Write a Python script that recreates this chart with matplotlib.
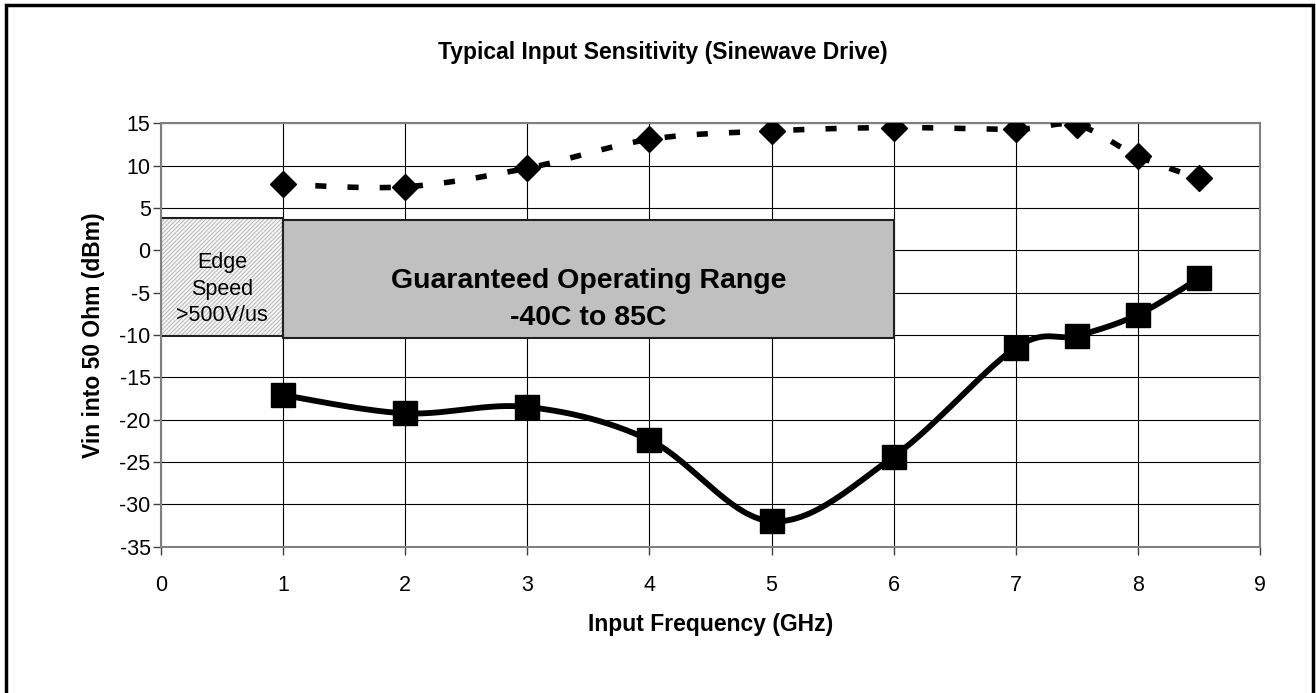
import numpy as np
import matplotlib
matplotlib.use('Agg')
import matplotlib.pyplot as plt
from matplotlib.patches import Rectangle

plt.rcParams['font.family'] = ['Liberation Sans', 'DejaVu Sans']
plt.rcParams['axes.unicode_minus'] = False
plt.rcParams['hatch.linewidth'] = 0.6
plt.rcParams['hatch.color'] = '#b0b0b0'

# data
freq_ghz = [1, 2, 3, 4, 5, 6, 7, 7.5, 8, 8.5]
upper_dbm = [7.8, 7.5, 9.7, 13.1, 14.1, 14.5, 14.3, 14.8, 11.1, 8.5]
lower_dbm = [-17.1, -19.25, -18.5, -22.4, -32.0, -24.35, -11.5, -10.1, -7.6, -3.3]

x_ticks = [0, 1, 2, 3, 4, 5, 6, 7, 8, 9]
y_ticks = [-35, -30, -25, -20, -15, -10, -5, 0, 5, 10, 15]

edge_box = (0, 1, -10.15, 3.8)        # x0, x1, y0, y1
range_box = (1, 6, -10.3, 3.6)


def smooth(xs, ys, n=30):
    # excel-like smoothed line: catmull-rom segments drawn as cubic bezier
    p = np.column_stack([xs, ys]).astype(float)
    p = np.vstack([p[0], p, p[-1]])
    out = []
    t = np.linspace(0, 1, n)[:, None]
    for i in range(1, len(p) - 2):
        p0, p1, p2, p3 = p[i - 1], p[i], p[i + 1], p[i + 2]
        c1 = p1 + (p2 - p0) / 6
        c2 = p2 - (p3 - p1) / 6
        seg = ((1 - t) ** 3) * p1 + 3 * ((1 - t) ** 2) * t * c1 + 3 * (1 - t) * t ** 2 * c2 + t ** 3 * p2
        out.append(seg)
    out = np.vstack(out)
    return out[:, 0], out[:, 1]


fig = plt.figure(figsize=(13.16, 6.93), dpi=100)
ax = fig.add_axes([161 / 1316, 1 - 546.7 / 693, (1260 - 161) / 1316, (546.7 - 123.3) / 693])

# outer chart frame (bottom edge is cut off in the reference)
fig.patches.append(Rectangle((5.5 / 1316, -0.05), (1313 - 5.5) / 1316, 1.05 - 5.5 / 693,
                             transform=fig.transFigure, fill=False, lw=2.5, ec='black'))

ax.set_xlim(0, 9)
ax.set_ylim(-35, 15)
ax.set_xticks(x_ticks)
ax.set_yticks(y_ticks)
ax.grid(True, color='black', lw=0.8)
ax.set_axisbelow(True)
for s in ax.spines.values():
    s.set_color('#808080')
    s.set_linewidth(1.5)
ax.tick_params(direction='out', length=5.5, width=1, color='#404040', labelsize=15.5)
ax.tick_params(axis='y', pad=2)
ax.tick_params(axis='x', pad=15)

x0, x1, y0, y1 = edge_box
ax.add_patch(Rectangle((x0, y0), x1 - x0, y1 - y0, facecolor='#f4f4f4', edgecolor='#b0b0b0',
                       hatch='////////', lw=0, zorder=2))
ax.add_patch(Rectangle((x0, y0), x1 - x0, y1 - y0, fill=False, edgecolor='#202020', lw=1.5, zorder=2))
ax.text((x0 + x1) / 2, (y0 + y1) / 2 - 1.4, 'Edge\nSpeed\n>500V/us', ha='center', va='center',
        fontsize=15.5, linespacing=1.35, zorder=3)

x0, x1, y0, y1 = range_box
ax.add_patch(Rectangle((x0, y0), x1 - x0, y1 - y0, facecolor='#c0c0c0', edgecolor='#202020', lw=1.5, zorder=2))
ax.text((x0 + x1) / 2, (y0 + y1) / 2 - 2.4, 'Guaranteed Operating Range\n-40C to 85C', ha='center',
        va='center', fontsize=20.5, fontweight='bold', linespacing=1.55, zorder=3)

sx, sy = smooth(freq_ghz, upper_dbm)
ax.plot(sx, sy, color='black', lw=4, ls=(0, (2.0, 3.8)), dash_capstyle='butt', zorder=4)
ax.plot(freq_ghz, upper_dbm, ls='none', marker='D', ms=13.5, color='black', zorder=5)

sx, sy = smooth(freq_ghz, lower_dbm)
ax.plot(sx, sy, color='black', lw=4.2, zorder=4)
ax.plot(freq_ghz, lower_dbm, ls='none', marker='s', ms=17.5, color='black', zorder=5)

fig.text(663 / 1316, 1 - 53 / 693, 'Typical Input Sensitivity (Sinewave Drive)', ha='center', va='center',
         fontsize=16.5, fontweight='bold')
ax.set_xlabel('Input Frequency (GHz)', fontsize=16.5, fontweight='bold', labelpad=12)
ax.set_ylabel('Vin into 50 Ohm (dBm)', fontsize=16.5, fontweight='bold', labelpad=10)

fig.savefig('out.png', dpi=100)
